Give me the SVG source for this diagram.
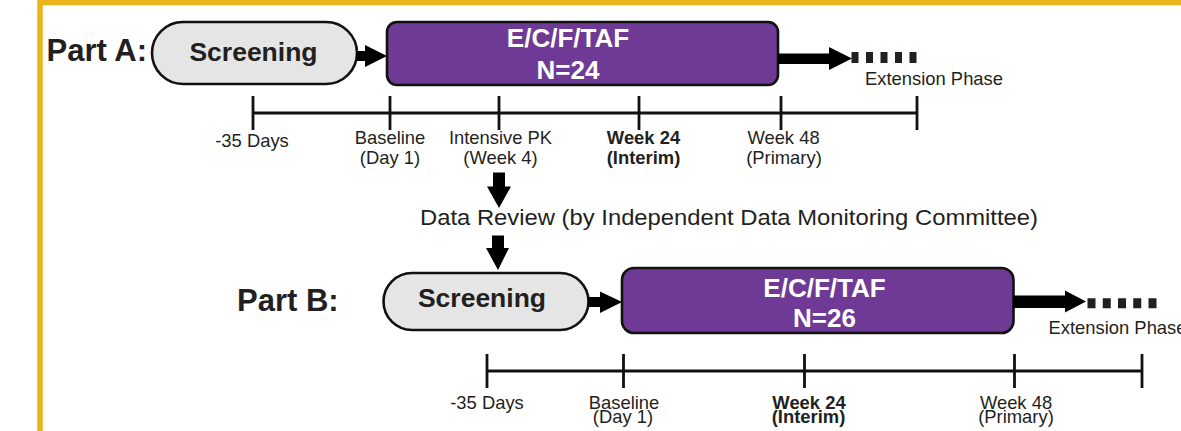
<svg xmlns="http://www.w3.org/2000/svg" width="1181" height="431" viewBox="0 0 1181 431">
  <style>
    .frame { fill: #ffffff; stroke: #ECB41B; stroke-width: 5.5; }
    .part { font-family: "Liberation Sans", Arial, sans-serif; font-weight: bold; font-size: 31px; fill: #231f20; }
    .pill { fill: #E4E5E4; stroke: #111111; stroke-width: 2.6; }
    .pill-text { font-family: "Liberation Sans", Arial, sans-serif; font-weight: bold; font-size: 26.5px; fill: #231f20; text-anchor: middle; }
    .arm { fill: #6E3A95; stroke: #111111; stroke-width: 2.6; }
    .arm-text { font-family: "Liberation Sans", Arial, sans-serif; font-weight: bold; font-size: 26px; fill: #ffffff; text-anchor: middle; }
    .arrow { fill: #000000; }
    .ext { stroke: #231f20; fill: none; }
    .axis { stroke: #111111; stroke-width: 2.8; fill: none; }
    .lbl { font-family: "Liberation Sans", Arial, sans-serif; font-size: 18.4px; fill: #231f20; text-anchor: middle; }
    .lbl-b { font-weight: bold; }
    .note { font-family: "Liberation Sans", Arial, sans-serif; font-size: 18.4px; fill: #231f20; }
    .review { font-family: "Liberation Sans", Arial, sans-serif; font-size: 22px; fill: #231f20; }
  </style>

  <rect width="1181" height="431" fill="#ffffff"/>
  <!-- golden frame, open past the right and bottom edges -->
  <rect class="frame" x="40" y="2.5" width="1300" height="600"/>

  <!-- Part A -->
  <text class="part" x="46.5" y="61">Part A:</text>

  <g id="screening-a">
    <rect class="pill" x="152" y="22" width="205" height="62" rx="31"/>
    <text class="pill-text" x="253.5" y="61">Screening</text>
  </g>

  <g id="treatment-a">
    <rect class="arm" x="387" y="22" width="391" height="63" rx="10"/>
    <text class="arm-text" x="568" y="47">E/C/F/TAF</text>
    <text class="arm-text" x="568" y="79">N=24</text>
  </g>

  <g id="extension-a">
    <text class="note" x="865" y="85">Extension Phase</text>
  </g>

  <g id="timeline-a">
    <path class="axis" d="M253,113 H917 M253,96 V130 M390,96 V130 M499,96 V130 M639,96 V130 M781,96 V130 M917,96 V130"/>
    <text class="lbl" x="252" y="147">-35 Days</text>
    <text class="lbl" x="390" y="144">Baseline</text>
    <text class="lbl" x="390" y="164">(Day 1)</text>
    <text class="lbl" x="500.5" y="144">Intensive PK</text>
    <text class="lbl" x="500.5" y="164">(Week 4)</text>
    <text class="lbl lbl-b" x="643.5" y="144">Week 24</text>
    <text class="lbl lbl-b" x="643.5" y="164">(Interim)</text>
    <text class="lbl" x="783.5" y="144">Week 48</text>
    <text class="lbl" x="784" y="164">(Primary)</text>
  </g>

  <g id="data-review">
    <text class="review" x="420" y="225" textLength="618" lengthAdjust="spacingAndGlyphs">Data Review (by Independent Data Monitoring Committee)</text>
  </g>

  <!-- Part B -->
  <text class="part" x="237" y="311">Part B:</text>

  <g id="screening-b">
    <rect class="pill" x="383.5" y="273" width="205" height="57" rx="28.5"/>
    <text class="pill-text" x="482" y="307">Screening</text>
  </g>

  <g id="treatment-b">
    <rect class="arm" x="622" y="268" width="391.5" height="65" rx="12"/>
    <text class="arm-text" x="824.5" y="296.5">E/C/F/TAF</text>
    <text class="arm-text" x="824.5" y="326.5">N=26</text>
  </g>

  <g id="extension-b">
    <text class="note" x="1048.5" y="334">Extension Phase</text>
  </g>

  <g id="timeline-b">
    <path class="axis" d="M487,371 H1142 M487,354 V388 M623.5,354 V388 M804.5,354 V388 M1014.5,354 V388 M1142,354 V388"/>
    <text class="lbl" x="487" y="409">-35 Days</text>
    <text class="lbl" x="624" y="409">Baseline</text>
    <text class="lbl" x="623" y="423">(Day 1)</text>
    <text class="lbl lbl-b" x="809" y="409">Week 24</text>
    <text class="lbl lbl-b" x="808.5" y="423">(Interim)</text>
    <text class="lbl" x="1016" y="409">Week 48</text>
    <text class="lbl" x="1016" y="423">(Primary)</text>
  </g>

  <!-- connectors -->
  <g id="connectors">
    <path class="arrow" d="M356,51 H365 V45 L387,56 L365,67 V61 H356 Z"/>
    <path class="arrow" d="M778,53.5 H829 V47 L852,58.5 L829,70 V64 H778 Z"/>
    <line class="ext" x1="851.5" y1="57.5" x2="918" y2="57.5" stroke-width="11" stroke-dasharray="7 7.5"/>
    <path class="arrow" d="M493,172.5 H505 V186.5 H511 L499,208 L487,186.5 H493 Z"/>
    <path class="arrow" d="M492,235.5 H504 V248 H509 L498,270 L486,248 H492 Z"/>
    <path class="arrow" d="M588,297 H600 V291.5 L622,302 L600,313 V307 H588 Z"/>
    <path class="arrow" d="M1013,295.5 H1065 V290.5 L1086,301.5 L1065,312.5 V308 H1013 Z"/>
    <line class="ext" x1="1087.5" y1="303.3" x2="1157" y2="303.3" stroke-width="10" stroke-dasharray="8 7.25"/>
  </g>
</svg>
